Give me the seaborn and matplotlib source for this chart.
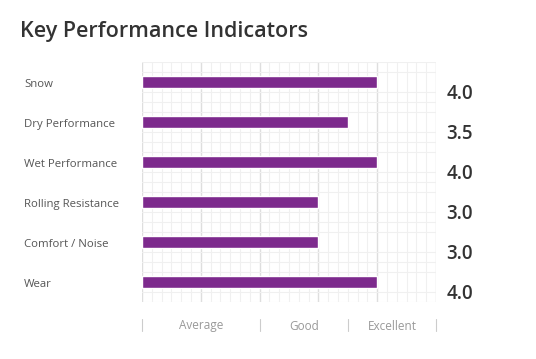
import numpy as np
import pandas as pd
import matplotlib
matplotlib.use("Agg")
import matplotlib.pyplot as plt
import matplotlib.transforms as mtransforms
import seaborn as sns

# chart data
categories = ['Snow', 'Dry Performance', 'Wet Performance',
              'Rolling Resistance', 'Comfort / Noise', 'Wear']
scores = [4.0, 3.5, 4.0, 3.0, 3.0, 4.0]
rating_labels = ['Average', 'Good', 'Excellent']
rating_bounds = [0, 2, 3.5, 5]

df = pd.DataFrame({'Category': categories, 'Score': scores})

sns.set_theme(style='white')
plt.rcParams['font.family'] = ['Open Sans', 'DejaVu Sans']

fig = plt.figure(figsize=(5.36, 3.59), dpi=100)
ax = fig.add_axes([142 / 536, 57 / 359, 294 / 536, 240 / 359])

sns.barplot(data=df, x='Score', y='Category', orient='h', width=0.3,
            color='#7d2a8d', saturation=1, ax=ax, zorder=3)

ax.set_xlim(0, 5)
ax.set_ylim(5.5, -0.5)

# grid: light minor cells, slightly darker major lines
ax.set_xticks(np.arange(0, 5.01, 1))
ax.set_xticks(np.arange(0, 5.01, 1 / 6), minor=True)
ax.set_yticks(np.arange(-0.5, 5.51, 0.25), minor=True)
ax.grid(which='minor', color='#f0f0f0', linewidth=0.8, zorder=0)
ax.grid(which='major', axis='x', color='#dedede', linewidth=1.0, zorder=1)
ax.set_axisbelow(True)
ax.tick_params(which='both', length=0, labelbottom=False, labelleft=False)
for s in ax.spines.values():
    s.set_visible(False)
ax.set_xlabel('')
ax.set_ylabel('')

# category labels on the left
left_tr = mtransforms.blended_transform_factory(fig.transFigure, ax.transData)
for i, c in enumerate(categories):
    ax.text(24 / 536, i + 0.06, c, transform=left_tr,
            ha='left', va='center', fontsize=8.2, color='#555555')

# score values on the right
for i, v in enumerate(scores):
    ax.text(1.035, i + 0.3, f'{v:.1f}', transform=ax.get_yaxis_transform(),
            ha='left', va='center', fontsize=13.5, color='#333333',
            fontweight='semibold')

# rating scale below the chart
tr = ax.get_xaxis_transform()
for b in rating_bounds:
    ax.plot([b, b], [-0.07, -0.12], transform=tr, color='#cccccc',
            linewidth=0.8, clip_on=False)
for lab, lo, hi in zip(rating_labels, rating_bounds[:-1], rating_bounds[1:]):
    ax.text((lo + hi) / 2, -0.1, lab, transform=tr, ha='center', va='center',
            fontsize=8.5, color='#999999')

fig.text(20 / 536, 1 - 32 / 359, 'Key Performance Indicators', ha='left',
         va='center', fontsize=15.5, color='#333333', fontweight='semibold')

fig.savefig('out.png', dpi=100, facecolor='white')
